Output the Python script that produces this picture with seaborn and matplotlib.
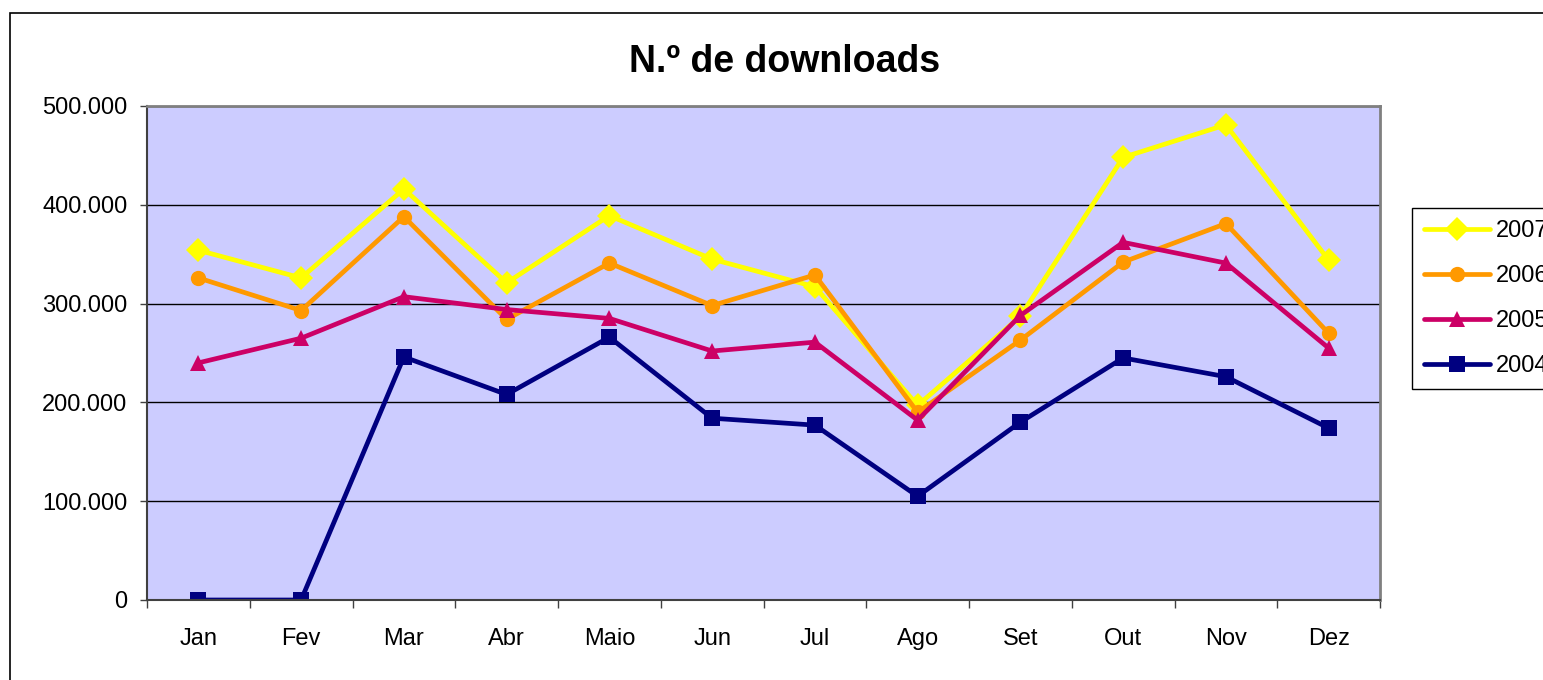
import numpy as np
import pandas as pd
import matplotlib
matplotlib.use("Agg")
import matplotlib.pyplot as plt
import seaborn as sns
from matplotlib.patches import Rectangle
from matplotlib.ticker import FuncFormatter, FixedLocator

months = ['Jan', 'Fev', 'Mar', 'Abr', 'Maio', 'Jun', 'Jul', 'Ago', 'Set', 'Out', 'Nov', 'Dez']
years = ['2007', '2006', '2005', '2004']

d2007 = [354000, 326000, 416000, 321000, 389000, 345000, 317000, 197000, 287000, 448000, 481000, 344000]
d2006 = [326000, 293000, 388000, 284000, 341000, 298000, 329000, 190000, 263000, 342000, 381000, 270000]
d2005 = [240000, 265000, 307000, 294000, 285000, 252000, 261000, 182000, 288000, 362000, 341000, 255000]
d2004 = [0, 0, 246000, 208000, 266000, 184000, 177000, 105000, 180000, 245000, 226000, 174000]

colors = {'2007': '#FFFF00', '2006': '#FF9900', '2005': '#CC0066', '2004': '#000080'}
markers = {'2007': 'D', '2006': 'o', '2005': '^', '2004': 's'}

df = pd.DataFrame({
    'mes': months * 4,
    'idx': list(range(12)) * 4,
    'ano': [y for y in years for _ in months],
    'downloads': d2007 + d2006 + d2005 + d2004,
})

sns.set_style("white")
plt.rcParams['font.family'] = ['Liberation Sans', 'DejaVu Sans']
plt.rcParams['text.color'] = 'black'
plt.rcParams['xtick.color'] = 'black'
plt.rcParams['ytick.color'] = 'black'

fig = plt.figure(figsize=(15.43, 6.8), dpi=100)
ax = fig.add_axes([147 / 1543, 80 / 680, 1233 / 1543, 494 / 680])
ax.set_facecolor('#CCCCFF')

sns.lineplot(data=df, x='idx', y='downloads', hue='ano', style='ano',
             hue_order=years, style_order=years, palette=colors,
             markers=markers, dashes=False, legend=False, ax=ax,
             linewidth=3.4, markersize=11, markeredgewidth=0)
# diamonds look a bit bigger in the original
ax.lines[0].set_markersize(12.5)

ax.set_xlim(-0.5, 11.5)
ax.set_ylim(0, 500000)
ax.set_xlabel('')
ax.set_ylabel('')

ax.yaxis.set_major_locator(FixedLocator([0, 100000, 200000, 300000, 400000, 500000]))
ax.yaxis.set_major_formatter(FuncFormatter(lambda v, p: '0' if v == 0 else f'{int(v):,}'.replace(',', '.')))
ax.set_xticks(np.arange(-0.5, 12, 1))
ax.set_xticklabels([])
ax.set_xticks(np.arange(12), minor=True)
ax.set_xticklabels(months, minor=True)
ax.tick_params(axis='x', which='major', length=6, width=1, color='#404040', direction='out', bottom=True)
ax.tick_params(axis='x', which='minor', length=0, pad=20, labelsize=17)
ax.tick_params(axis='y', length=5, width=1, color='#404040', direction='out', left=True, pad=9, labelsize=17)

ax.grid(axis='y', color='black', linewidth=1)
ax.grid(axis='x', visible=False)
for side in ['top', 'right']:
    ax.spines[side].set_color('#808080')
    ax.spines[side].set_linewidth(2)
for side in ['left', 'bottom']:
    ax.spines[side].set_color('#404040')
    ax.spines[side].set_linewidth(1.5)

fig.text(785 / 1543, 1 - 62 / 680, 'N.º de downloads', ha='center', va='center',
         fontsize=27, fontweight='bold')

leg = fig.legend(ax.lines[:4], years, loc='upper left',
                 bbox_to_anchor=(1412 / 1543, 1 - 208 / 680), fontsize=17,
                 frameon=True, fancybox=False, edgecolor='black', framealpha=1,
                 handlelength=2.8, labelspacing=0.98, borderpad=0.5, handletextpad=0.25,
                 borderaxespad=0)
leg.get_frame().set_linewidth(1)

fig.patches.append(Rectangle((10 / 1543, -0.1), 1.2, 1 - 13 / 680 + 0.1,
                             transform=fig.transFigure, fill=False,
                             edgecolor='black', linewidth=1.2, zorder=0))

fig.savefig('out.png', dpi=100)
